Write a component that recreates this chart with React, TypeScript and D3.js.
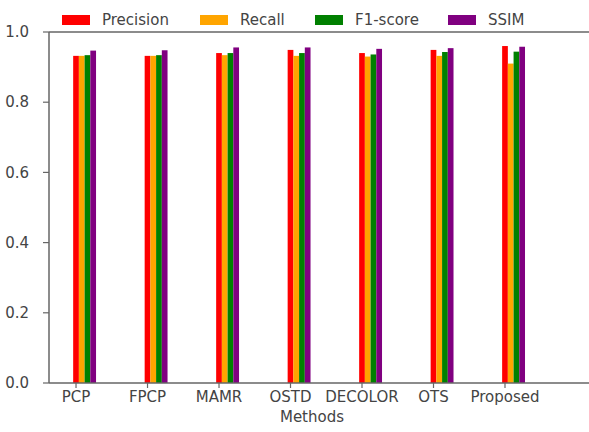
import * as d3 from "d3";

const methods = ["PCP", "FPCP", "MAMR", "OSTD", "DECOLOR", "OTS", "Proposed"];
const seriesNames = ["Precision", "Recall", "F1-score", "SSIM"];
const seriesColors = ["#ff0000", "#ffa500", "#008000", "#800080"];

const precision = [0.932, 0.932, 0.940, 0.949, 0.940, 0.949, 0.960];
const recall = [0.932, 0.932, 0.934, 0.932, 0.930, 0.932, 0.910];
const f1score = [0.934, 0.934, 0.940, 0.940, 0.936, 0.943, 0.944];
const ssim = [0.947, 0.948, 0.956, 0.956, 0.952, 0.954, 0.958];

const yTicks = [0, 0.2, 0.4, 0.6, 0.8, 1.0];

const W = 589;
const H = 432;
const left = 49;
const top = 32;
const bottom = 383;
const barW = 0.08;
const font = "DejaVu Sans, sans-serif";
const fs = 15;
const axisColor = "#666";
const textColor = "#444";

export default function App() {
  const series = [precision, recall, f1score, ssim];
  // tick of each method sits under its first (red) bar
  const x = d3.scaleLinear().domain([-0.378, 7.175]).range([left, W]);
  const y = d3.scaleLinear().domain([0, 1]).range([bottom, top]);
  const bw = x(barW) - x(0);

  const legendX = [62, 200, 315, 448];

  return (
    <div style={{ position: "absolute", left: 0, top: 0 }}>
      <svg width={W} height={H} style={{ display: "block", background: "#fff" }}>
        {series.map((vals, k) =>
          vals.map((v, i) => (
            <rect
              key={k + "-" + i}
              x={x(i + k * barW) - bw / 2}
              y={y(v)}
              width={bw}
              height={y(0) - y(v)}
              fill={seriesColors[k]}
            />
          ))
        )}

        {/* spines */}
        <line x1={left} x2={left} y1={top} y2={bottom} stroke={axisColor} strokeWidth={1.5} />
        <line x1={left} x2={W} y1={bottom} y2={bottom} stroke={axisColor} strokeWidth={1.5} />
        <line x1={left} x2={W} y1={top} y2={top} stroke={axisColor} strokeWidth={1.5} />

        {/* y ticks */}
        {yTicks.map((t) => (
          <g key={t}>
            <line x1={left - 6} x2={left} y1={y(t)} y2={y(t)} stroke={axisColor} strokeWidth={1.2} />
            <text
              x={29}
              y={y(t)}
              dy="0.35em"
              textAnchor="end"
              fontFamily={font}
              fontSize={fs}
              fill={textColor}
            >
              {t.toFixed(1)}
            </text>
          </g>
        ))}

        {/* x ticks */}
        {methods.map((m, i) => (
          <g key={m}>
            <line x1={x(i)} x2={x(i)} y1={bottom} y2={bottom + 5} stroke={axisColor} strokeWidth={1.2} />
            <text
              x={x(i)}
              y={bottom + 19}
              textAnchor="middle"
              fontFamily={font}
              fontSize={fs}
              fill={textColor}
            >
              {m}
            </text>
          </g>
        ))}
        <text
          x={312}
          y={422}
          textAnchor="middle"
          fontFamily={font}
          fontSize={fs}
          fill={textColor}
        >
          Methods
        </text>

        {/* legend */}
        {seriesNames.map((s, k) => (
          <g key={s}>
            <rect x={legendX[k]} y={15} width={28} height={10} fill={seriesColors[k]} />
            <text
              x={legendX[k] + 40}
              y={20}
              dy="0.35em"
              fontFamily={font}
              fontSize={fs}
              fill={textColor}
            >
              {s}
            </text>
          </g>
        ))}
      </svg>
    </div>
  );
}
